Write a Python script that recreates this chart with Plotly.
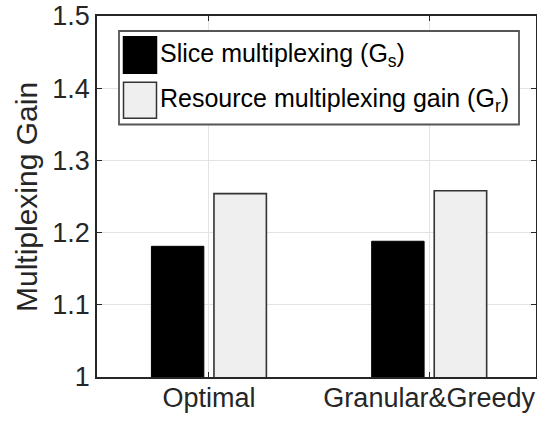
import plotly.graph_objects as go

categories = ["Optimal", "Granular&Greedy"]
slice_gain = [1.181, 1.188]
resource_gain = [1.254, 1.258]
series_names = ["Slice multiplexing (G<sub>s</sub>)", "Resource multiplexing gain (G<sub>r</sub>)"]
y_title = "Multiplexing Gain"
y_ticks = [1.0, 1.1, 1.2, 1.3, 1.4, 1.5]
y_ticktext = ["1", "1.1", "1.2", "1.3", "1.4", "1.5"]

W, H = 537, 421
ML, MR, MT, MB = 97, 1, 16, 44
FONT = "Liberation Sans, Arial, Helvetica, sans-serif"
TXT = "#262626"

fig = go.Figure()
fig.add_trace(go.Bar(x=categories, y=slice_gain, name=series_names[0], showlegend=False,
                     marker=dict(color="#000000", line=dict(color="#000000", width=1))))
fig.add_trace(go.Bar(x=categories, y=resource_gain, name=series_names[1], showlegend=False,
                     marker=dict(color="#efefef", line=dict(color="#333333", width=1.6))))

pw = W - ML - MR
ph = H - MT - MB


def px(x):
    return (x - ML) / pw


def py(y):
    return (H - MB - y) / ph


# legend box (drawn manually to match the large swatches)
fig.add_shape(type="rect", xref="paper", yref="paper", x0=px(119), x1=px(519), y0=py(124.5), y1=py(31),
              fillcolor="white", line=dict(color="#555555", width=1.8), layer="above")
swatch_colors = ["#000000", "#efefef"]
swatch_lines = ["#000000", "#333333"]
rows = [(36.7, 73.3), (82.3, 118.3)]
for i, (t, b) in enumerate(rows):
    fig.add_shape(type="rect", xref="paper", yref="paper", x0=px(123.5), x1=px(156.5), y0=py(b), y1=py(t),
                  fillcolor=swatch_colors[i], line=dict(color=swatch_lines[i], width=1.5), layer="above")
    fig.add_annotation(xref="paper", yref="paper", x=px(158), y=py((t + b) / 2), xanchor="left",
                       yanchor="middle", text=series_names[i], showarrow=False,
                       font=dict(family=FONT, size=25, color="#000000"))

# y-axis title
fig.add_annotation(xref="paper", yref="paper", x=px(26), y=py(197), xanchor="center", yanchor="middle",
                   text=y_title, textangle=-90, showarrow=False,
                   font=dict(family=FONT, size=30, color=TXT))

fig.update_layout(
    template="none",
    width=W, height=H,
    margin=dict(l=ML, r=MR, t=MT, b=MB, pad=0),
    paper_bgcolor="white", plot_bgcolor="white",
    barmode="group", bargap=0.432, bargroupgap=0.162,
    font=dict(family=FONT, size=27, color=TXT),
    showlegend=False,
)
fig.update_xaxes(
    type="category", range=[-0.508, 1.485], automargin=False,
    showline=True, linecolor=TXT, linewidth=1.5, mirror="ticks",
    ticks="inside", ticklen=5, tickcolor=TXT, tickwidth=1,
    showgrid=True, gridcolor="#e3e3e3", gridwidth=1, zeroline=False,
    tickfont=dict(family=FONT, size=27, color=TXT),
    ticklabelstandoff=-4,
)
fig.update_yaxes(
    range=[1.0, 1.5], tickvals=y_ticks, ticktext=y_ticktext, automargin=False,
    showline=True, linecolor=TXT, linewidth=1.5, mirror="ticks",
    ticks="inside", ticklen=5, tickcolor=TXT, tickwidth=1,
    showgrid=True, gridcolor="#e3e3e3", gridwidth=1, zeroline=False,
    tickfont=dict(family=FONT, size=27, color=TXT),
)

fig.write_html("out.html", config={"displayModeBar": False},
               post_script="document.body.style.margin='0';document.body.style.overflow='hidden';")
